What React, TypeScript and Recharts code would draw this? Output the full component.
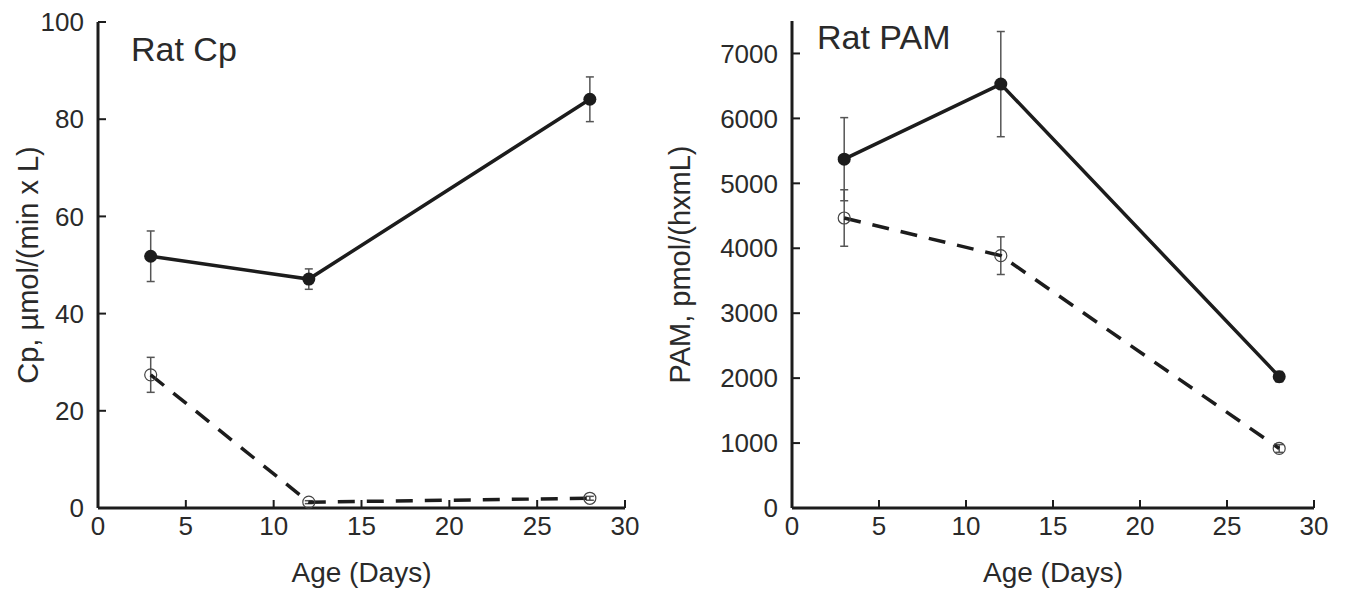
import React from "react";
import { LineChart, Line, XAxis, YAxis, ErrorBar, Label } from "recharts";

// ages sampled (days)
const days = [3, 12, 28];
const dayTicks = [0, 5, 10, 15, 20, 25, 30];

// Rat Cp, umol/(min x L)
const cpFilled = [51.8, 47.1, 84.1];
const cpFilledErr = [5.2, 2.1, 4.6];
const cpOpen = [27.4, 1.2, 2.0];
const cpOpenErr = [3.6, 0.3, 0.4];
const cpTicks = [0, 20, 40, 60, 80, 100];

// Rat PAM, pmol/(hxmL)
const pamFilled = [5372, 6528, 2023];
const pamFilledErr = [640, 810, 80];
const pamOpen = [4466, 3886, 917];
const pamOpenErr = [435, 290, 60];
const pamTicks = [0, 1000, 2000, 3000, 4000, 5000, 6000, 7000];

const FONT = "'Liberation Sans', Arial, sans-serif";
const INK = "#1c1c1c";
const TEXT = "#2a2a2a";

const buildRows = (a: number[], ae: number[], b: number[], be: number[]) =>
  days.map((d, i) => ({ day: d, filled: a[i], filledErr: ae[i], open: b[i], openErr: be[i] }));

const cpRows = buildRows(cpFilled, cpFilledErr, cpOpen, cpOpenErr);
const pamRows = buildRows(pamFilled, pamFilledErr, pamOpen, pamOpenErr);

const FilledDot = (props: any) => {
  const { cx, cy } = props;
  if (cx == null || cy == null) return null;
  return <circle cx={cx} cy={cy} r={6.5} fill={INK} stroke="none" />;
};

const OpenDot = (props: any) => {
  const { cx, cy } = props;
  if (cx == null || cy == null) return null;
  return <circle cx={cx} cy={cy} r={6} fill="none" stroke="#444" strokeWidth={1.2} />;
};

const tickStyle = { fontSize: 26, fill: TEXT, fontFamily: FONT };

interface IPanel {
  rows: any[];
  yMax: number;
  yTicks: number[];
  yLabel: string;
  yLabelX: number;
  axisWidth: number;
  left: number;
  width: number;
  top: number;
  right: number;
}

const Panel = ({ rows, yMax, yTicks, yLabel, yLabelX, axisWidth, left, width, top, right }: IPanel) => (
  <div style={{ position: "absolute", left, top: 0 }}>
    <LineChart width={width} height={591} data={rows} margin={{ top, right, bottom: 0, left: 0 }}>
      <XAxis
        dataKey="day"
        type="number"
        domain={[0, 30]}
        ticks={dayTicks}
        height={83}
        tickSize={-8}
        tickMargin={17}
        tick={tickStyle}
        axisLine={{ stroke: INK, strokeWidth: 3 }}
        tickLine={{ stroke: INK, strokeWidth: 2 }}
      >
        <Label
          content={({ viewBox }: any) => (
            <text
              x={viewBox.x + viewBox.width / 2}
              y={viewBox.y + 74}
              textAnchor="middle"
              fontSize={28}
              fontFamily={FONT}
              fill={TEXT}
            >
              Age (Days)
            </text>
          )}
        />
      </XAxis>
      <YAxis
        type="number"
        domain={[0, yMax]}
        ticks={yTicks}
        width={axisWidth}
        tickSize={-8}
        tickMargin={22}
        tick={tickStyle}
        axisLine={{ stroke: INK, strokeWidth: 3 }}
        tickLine={{ stroke: INK, strokeWidth: 2 }}
      >
        <Label
          content={({ viewBox }: any) => {
            const cy = viewBox.y + viewBox.height / 2;
            return (
              <text
                x={yLabelX}
                y={cy}
                transform={`rotate(-90 ${yLabelX} ${cy})`}
                textAnchor="middle"
                dominantBaseline="central"
                fontSize={29}
                fontFamily={FONT}
                fill={TEXT}
              >
                {yLabel}
              </text>
            );
          }}
        />
      </YAxis>
      <Line
        dataKey="open"
        stroke={INK}
        strokeWidth={3.5}
        strokeDasharray="17 12"
        dot={<OpenDot />}
        activeDot={false}
        isAnimationActive={false}
      >
        <ErrorBar dataKey="openErr" direction="y" width={4} stroke="#555" strokeWidth={1.5} />
      </Line>
      <Line
        dataKey="filled"
        stroke={INK}
        strokeWidth={3.5}
        dot={<FilledDot />}
        activeDot={false}
        isAnimationActive={false}
      >
        <ErrorBar dataKey="filledErr" direction="y" width={4} stroke="#555" strokeWidth={1.5} />
      </Line>
    </LineChart>
  </div>
);

const App = () => (
  <div style={{ position: "absolute", left: 0, top: 0, width: 1346, height: 591, background: "#fff" }}>
    <Panel
      rows={cpRows}
      yMax={100}
      yTicks={cpTicks}
      yLabel="Cp, µmol/(min x L)"
      yLabelX={28}
      axisWidth={98}
      left={0}
      width={660}
      top={22}
      right={35}
    />
    <Panel
      rows={pamRows}
      yMax={7500}
      yTicks={pamTicks}
      yLabel="PAM, pmol/(hxmL)"
      yLabelX={20}
      axisWidth={132}
      left={660}
      width={686}
      top={21}
      right={32}
    />
    <svg
      width={1346}
      height={591}
      style={{ position: "absolute", left: 0, top: 0, pointerEvents: "none" }}
    >
      <text x={131} y={61} fontSize={34} fontFamily={FONT} fill={TEXT}>
        Rat Cp
      </text>
      <text x={817} y={49} fontSize={34} fontFamily={FONT} fill={TEXT}>
        Rat PAM
      </text>
    </svg>
  </div>
);

export default App;
